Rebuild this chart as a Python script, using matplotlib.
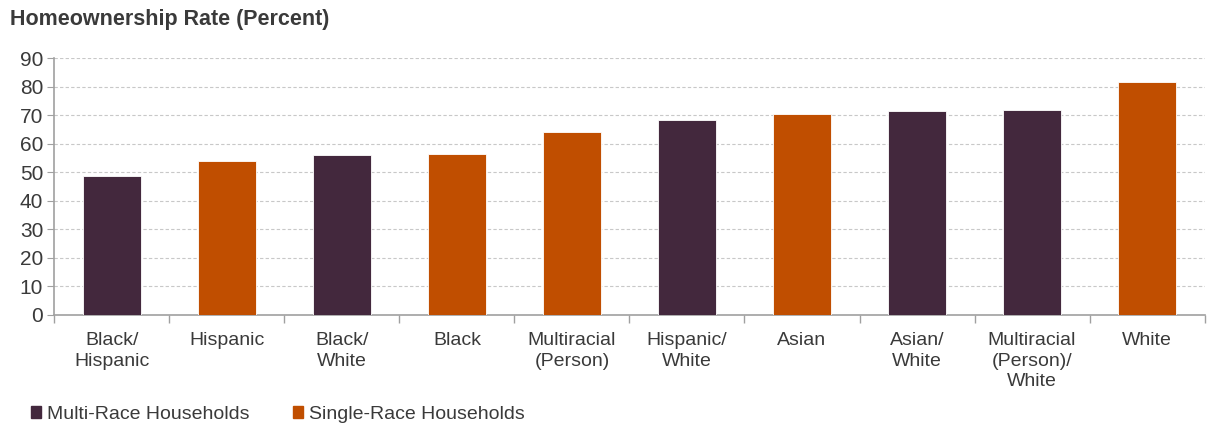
import numpy as np
import matplotlib.pyplot as plt
from matplotlib.patches import Patch

plt.rcParams['font.family'] = ['Liberation Sans', 'DejaVu Sans']

# data
categories = ["Black/\nHispanic", "Hispanic", "Black/\nWhite", "Black", "Multiracial\n(Person)",
              "Hispanic/\nWhite", "Asian", "Asian/\nWhite", "Multiracial\n(Person)/\nWhite", "White"]
rates = [48.7, 54.1, 56.0, 56.3, 64.1, 68.3, 70.3, 71.5, 71.8, 81.7]
household_type = ["multi", "single", "multi", "single", "single",
                  "multi", "single", "multi", "multi", "single"]

purple = "#43283d"
orange = "#c04e00"
txt = "#3a3a3a"
colors = [purple if t == "multi" else orange for t in household_type]

fig = plt.figure(figsize=(12.07, 4.26), dpi=100)
ax = fig.add_axes([0.045, 0.2606, 0.953, 0.6032])

x = np.arange(len(categories))
ax.bar(x, rates, width=0.5, color=colors, edgecolor="#ffffff", linewidth=0.6, zorder=3)

ax.set_xlim(-0.5, len(categories) - 0.5)
ax.set_ylim(0, 90)
ax.set_yticks(range(0, 91, 10))
ax.yaxis.grid(True, linestyle=(0, (3, 2)), color="#c8c8c8", linewidth=0.8, zorder=0)

# category labels centred, ticks at the boundaries
ax.set_xticks(x)
ax.set_xticklabels(categories, fontsize=14, color=txt, linespacing=1.3)
ax.tick_params(axis="x", length=0, pad=12)
ax.set_xticks(np.arange(-0.5, len(categories), 1), minor=True)
ax.tick_params(axis="x", which="minor", length=6, color="#a0a0a0", width=1)
ax.tick_params(axis="y", length=5, color="#a0a0a0", labelsize=15, labelcolor=txt, pad=3)

for side in ["top", "right"]:
    ax.spines[side].set_visible(False)
for side in ["left", "bottom"]:
    ax.spines[side].set_color("#a0a0a0")
    ax.spines[side].set_linewidth(1.2)

fig.text(0.008, 0.955, "Homeownership Rate (Percent)", fontsize=15.5, fontweight="bold",
         color=txt, va="center", ha="left")

handles = [Patch(color=purple, label="Multi-Race Households"),
           Patch(color=orange, label="Single-Race Households")]
fig.legend(handles=handles, loc="lower left", bbox_to_anchor=(0.011, -0.033), ncol=2,
           frameon=False, fontsize=14, handlelength=0.55, handleheight=0.55,
           handletextpad=0.3, columnspacing=2.2, labelcolor=txt)

plt.savefig("out.png", dpi=100)
plt.close()
